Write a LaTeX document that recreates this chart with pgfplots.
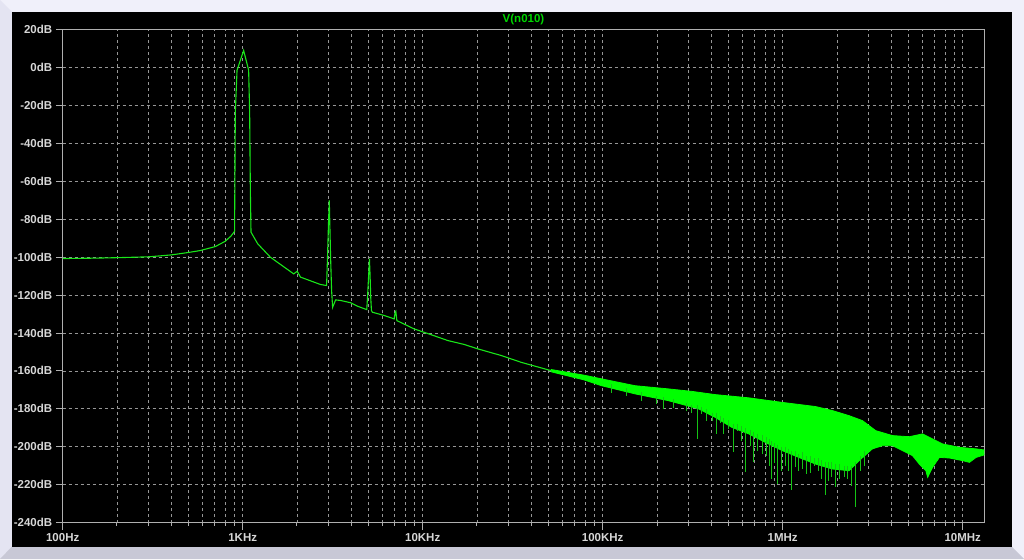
\documentclass[border=0pt]{standalone}
\usepackage{fontspec}
\setmainfont{Liberation Sans}
\usepackage{pgfplots}
\pgfplotsset{compat=1.18}
\definecolor{ltgreen}{RGB}{25,230,25}
\definecolor{bandgreen}{RGB}{0,255,0}
\definecolor{gridgray}{RGB}{150,150,150}
\definecolor{axgray}{RGB}{175,175,175}
\definecolor{lblgray}{RGB}{215,215,215}
\definecolor{frametop}{RGB}{240,240,250}
\definecolor{frameleft}{RGB}{228,228,242}
\definecolor{framebot}{RGB}{200,200,214}

\begin{document}
\begin{tikzpicture}[x=1pt,y=1pt]
% window frame
\fill[frametop] (0,0) rectangle (1024,559);
\fill[frameleft] (0,0) -- (12,12.5) -- (12,547) -- (0,559) -- cycle;
\fill[framebot] (0,0) -- (1024,0) -- (1011.5,12.5) -- (12,12.5) -- cycle;
\fill[black] (12,12.5) rectangle (1011.5,547);

\begin{axis}[
  at={(62.7pt,36.3pt)}, anchor=south west,
  scale only axis, width=921.6pt, height=493.4pt,
  xmode=log, xmin=100, xmax=1.318e7,
  ymin=-240, ymax=20,
  xtick={100,1000,10000,100000,1000000,10000000},
  xticklabels={100Hz,1KHz,10KHz,100KHz,1MHz,10MHz},
  minor xtick={200,300,400,500,600,700,800,900,
    2000,3000,4000,5000,6000,7000,8000,9000,
    20000,30000,40000,50000,60000,70000,80000,90000,
    200000,300000,400000,500000,600000,700000,800000,900000,
    2000000,3000000,4000000,5000000,6000000,7000000,8000000,9000000},
  ytick={-240,-220,-200,-180,-160,-140,-120,-100,-80,-60,-40,-20,0,20},
  yticklabels={-240dB,-220dB,-200dB,-180dB,-160dB,-140dB,-120dB,-100dB,-80dB,-60dB,-40dB,-20dB,0dB,20dB},
  grid=both,
  major grid style={gridgray, line width=0.7pt, dash pattern=on 3pt off 3pt},
  minor grid style={gridgray, line width=0.7pt, dash pattern=on 3pt off 3pt},
  tick align=outside, tick pos=left,
  major tick length=7pt, minor tick length=3pt,
  every tick/.style={axgray, line width=0.8pt},
  axis line style={axgray, line width=1pt},
  tick label style={text=lblgray, font=\bfseries\fontsize{11.5}{13}\selectfont},
  title={V(n010)},
  title style={text={rgb,255:red,0;green,215;blue,0}, font=\bfseries\fontsize{11.5}{13}\selectfont,
    at={(0.5,1)}, anchor=center, yshift=4pt},
]
% main trace up to the noise band
\addplot[ltgreen, line width=1.1pt] coordinates {
(100,-100.8) (150,-100.6) (210,-100.3) (300,-99.9) (400,-98.9) (500,-97.6)
(580,-96.6) (704,-94.5) (800,-91.7) (860,-89) (901,-86.5) (910,-23.6)
(930,-1.6) (1012,8.9) (1079,-1.6) (1093,-24.3) (1103,-65.8) (1112,-86.9)
(1211,-93) (1425,-100.1) (1921,-108.9) (2007,-107.5) (2095,-110.6)
(2708,-114.5) (2924,-115) (2951,-103.6) (3000,-80.7) (3027,-70.2)
(3078,-100.1) (3118,-117.7) (3159,-126.5) (3282,-122.6) (3500,-122.9)
(3980,-124.1) (4337,-125.9) (4887,-127.7) (4931,-122.0) (5013,-108.9)
(5058,-100.9) (5097,-108.9) (5144,-121.2) (5190,-128.2) (5256,-129.1)
(6101,-130.8) (6936,-132.6) (7028,-129.3) (7091,-128.6) (7183,-133.5)
(8968,-137.9) (11110,-140.9) (13770,-144) (17030,-146.1) (20230,-148.4)
(27290,-151.9) (35270,-155.5) (51830,-159.9)
};
% noise band: upper envelope, then lower envelope back
\addplot[bandgreen, fill=bandgreen, line width=0.8pt] coordinates {
(51830,-159.3) (79170,-162.3) (98460,-164.2) (151000,-167.8) (231800,-169.5)
(312600,-170.8) (421500,-172.5) (647100,-174.2) (992400,-176.6)
(1522000,-178.8) (1886000,-180.9) (2336000,-183.6) (2771000,-186.2)
(3287000,-191.5) (4072000,-194.1) (5046000,-194.7) (5984000,-193.2)
(6806000,-195.9) (7736000,-198.5) (9585000,-200.3) (11860000,-201.1)
(14000000,-202)
(14000000,-203.5) (11860000,-205.6) (10900000,-208.2) (10000000,-207.3)
(8434000,-205.9) (7417000,-205.6) (6806000,-210.8) (6383000,-216.1)
(6247000,-212.6) (5738000,-209.1) (5264000,-204.7) (4629000,-202)
(4072000,-199.4) (3583000,-199.4) (3149000,-201.1) (2658000,-207.3)
(2336000,-212.6) (1886000,-211.7) (1522000,-209.1) (1229000,-205.6)
(992400,-202) (801100,-197.7) (647100,-193.2) (522500,-189.8)
(421500,-184.5) (340800,-180) (293100,-178.3) (231800,-175.7)
(151000,-172.1) (98460,-167.8) (79170,-164.8) (51830,-160.5)
} -- cycle;
% downward spikes below the band
\addplot[ltgreen!85!black, line width=0.8pt, unbounded coords=jump, forget plot] coordinates {
(112000,-167) (112000,-171.5) (112000,nan)
(135700,-169) (135700,-173) (135700,nan)
(164600,-171) (164600,-175.7) (164600,nan)
(199500,-173) (199500,-177.3) (199500,nan)
(218300,-174) (218300,-179.9) (218300,nan)
(248100,-175) (248100,-179.4) (248100,nan)
(293200,-177) (293200,-180.9) (293200,nan)
(312600,-178) (312600,-182.0) (312600,nan)
(337700,-178) (337700,-195.9) (337700,nan)
(355400,-179) (355400,-182.5) (355400,nan)
(379000,-180) (379000,-186.2) (379000,nan)
(404200,-182) (404200,-186.2) (404200,nan)
(427100,-182) (427100,-193.2) (427100,nan)
(447800,-184) (447800,-187.3) (447800,nan)
(465500,-185) (465500,-193.2) (465500,nan)
(496300,-186) (496300,-190.4) (496300,nan)
(533900,-188) (533900,-202.9) (533900,nan)
(557000,-188) (557000,-191.5) (557000,nan)
(586400,-189) (586400,-196.8) (586400,nan)
(619600,-190) (619600,-213.5) (619600,nan)
(658000,-191) (658000,-199.4) (658000,nan)
(684000,-192) (684000,-208.2) (684000,nan)
(720000,-193) (720000,-202.1) (720000,nan)
(767800,-194) (767800,-203.8) (767800,nan)
(808000,-195) (808000,-204.7) (808000,nan)
(840000,-196) (840000,-210) (840000,nan)
(865000,-197) (865000,-217) (865000,nan)
(896000,-198) (896000,-208.4) (896000,nan)
(939000,-199) (939000,-219.6) (939000,nan)
(984000,-200) (984000,-212.6) (984000,nan)
(1031000,-200) (1031000,-210) (1031000,nan)
(1072000,-201) (1072000,-212.6) (1072000,nan)
(1114000,-202) (1114000,-222.8) (1114000,nan)
(1172000,-202) (1172000,-210.5) (1172000,nan)
(1229000,-204) (1229000,-212.6) (1229000,nan)
(1283000,-203) (1283000,-211.6) (1283000,nan)
(1350000,-205) (1350000,-214.3) (1350000,nan)
(1421000,-205) (1421000,-213.7) (1421000,nan)
(1502000,-206) (1502000,-210) (1502000,nan)
(1575000,-206) (1575000,-212.6) (1575000,nan)
(1637000,-207) (1637000,-216.8) (1637000,nan)
(1717000,-208) (1717000,-225.3) (1717000,nan)
(1791000,-208) (1791000,-217.9) (1791000,nan)
(1862000,-208) (1862000,-215.8) (1862000,nan)
(1967000,-209) (1967000,-221.4) (1967000,nan)
(2063000,-209) (2063000,-216.8) (2063000,nan)
(2191000,-210) (2191000,-216.1) (2191000,nan)
(2286000,-210) (2286000,-216.8) (2286000,nan)
(2406000,-210) (2406000,-220.5) (2406000,nan)
(2543000,-208) (2543000,-231.9) (2543000,nan)
(2700000,-205) (2700000,-212.6) (2700000,nan)
(2843000,-202) (2843000,-210) (2843000,nan)
};
\end{axis}
\end{tikzpicture}
\end{document}
